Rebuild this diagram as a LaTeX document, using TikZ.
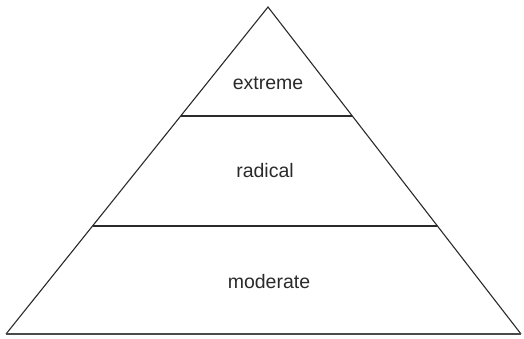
\documentclass[tikz,border=0pt]{standalone}
\usepackage{fontspec}
\setmainfont{Liberation Sans}
\usetikzlibrary{calc}
\definecolor{ink}{HTML}{2A2A2A}
\tikzset{
  edge/.style={draw=ink, line width=1.1pt, line join=miter},
  baseedge/.style={draw=ink!85, line width=2pt},
  lbl/.style={anchor=base, text=ink, inner sep=0pt, font=\fontsize{19.5}{22}\selectfont}
}
\begin{document}
\begin{tikzpicture}[x=1pt,y=-1pt]
\useasboundingbox (0,0) rectangle (524,338);
\coordinate (apex) at (268,7);
\coordinate (bl) at (6,334);
\coordinate (br) at (521,334);
\coordinate (l1) at ($(apex)!0.3333!(bl)$);
\coordinate (r1) at ($(apex)!0.3333!(br)$);
\coordinate (l2) at ($(apex)!0.6697!(bl)$);
\coordinate (r2) at ($(apex)!0.6697!(br)$);
\draw[edge] (bl) -- (apex) -- (br);
\draw[baseedge] (bl) -- (br);
\draw[edge] (l1) -- (r1);
\draw[edge] (l2) -- (r2);
\node[lbl] (ext) at (268,89) {extreme};
\node[lbl] (rad) at (265,177) {radical};
\node[lbl] (mod) at (269,288) {moderate};
\end{tikzpicture}
\end{document}
